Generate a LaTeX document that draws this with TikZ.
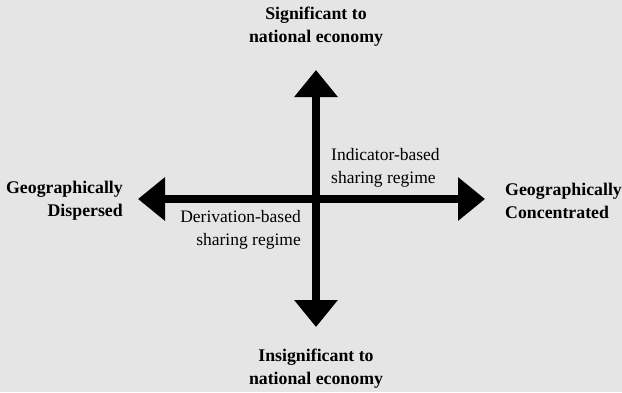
\documentclass[tikz,border=0pt]{standalone}
\usepackage{fontspec}
\setmainfont{Liberation Serif}
\usetikzlibrary{arrows.meta}
\definecolor{bg}{RGB}{229,229,229}
\begin{document}
\begin{tikzpicture}[x=1pt,y=-1pt,
  axis/.style={line width=8pt,{Triangle[length=27pt,width=42pt]}-{Triangle[length=27pt,width=42pt]}},
  lab/.style={font=\fontsize{17.8}{23}\selectfont\bfseries,inner sep=0pt},
  reg/.style={font=\fontsize{17.5}{22.5}\selectfont,inner sep=0pt}]
\fill[bg] (0,0) rectangle (622,392);
\useasboundingbox (0,0) rectangle (622,392);
\coordinate (L) at (138,199);
\coordinate (R) at (485,199);
\coordinate (T) at (316,70);
\coordinate (B) at (316,327);
\draw[axis] (L) -- (R);
\draw[axis] (T) -- (B);
\node[lab,align=center] (top) at (316,27) {Significant to\\national economy};
\node[lab,align=center] (bot) at (316,369) {Insignificant to\\national economy};
\node[lab,align=right,anchor=east] (lft) at (123,201) {Geographically\\Dispersed};
\node[lab,align=left,anchor=west] (rgt) at (505,201) {Geographically\\Concentrated};
\node[reg,align=left,anchor=west] (ind) at (331,168) {Indicator-based\\sharing regime};
\node[reg,align=right,anchor=east] (der) at (301,230) {Derivation-based\\sharing regime};
\end{tikzpicture}
\end{document}
